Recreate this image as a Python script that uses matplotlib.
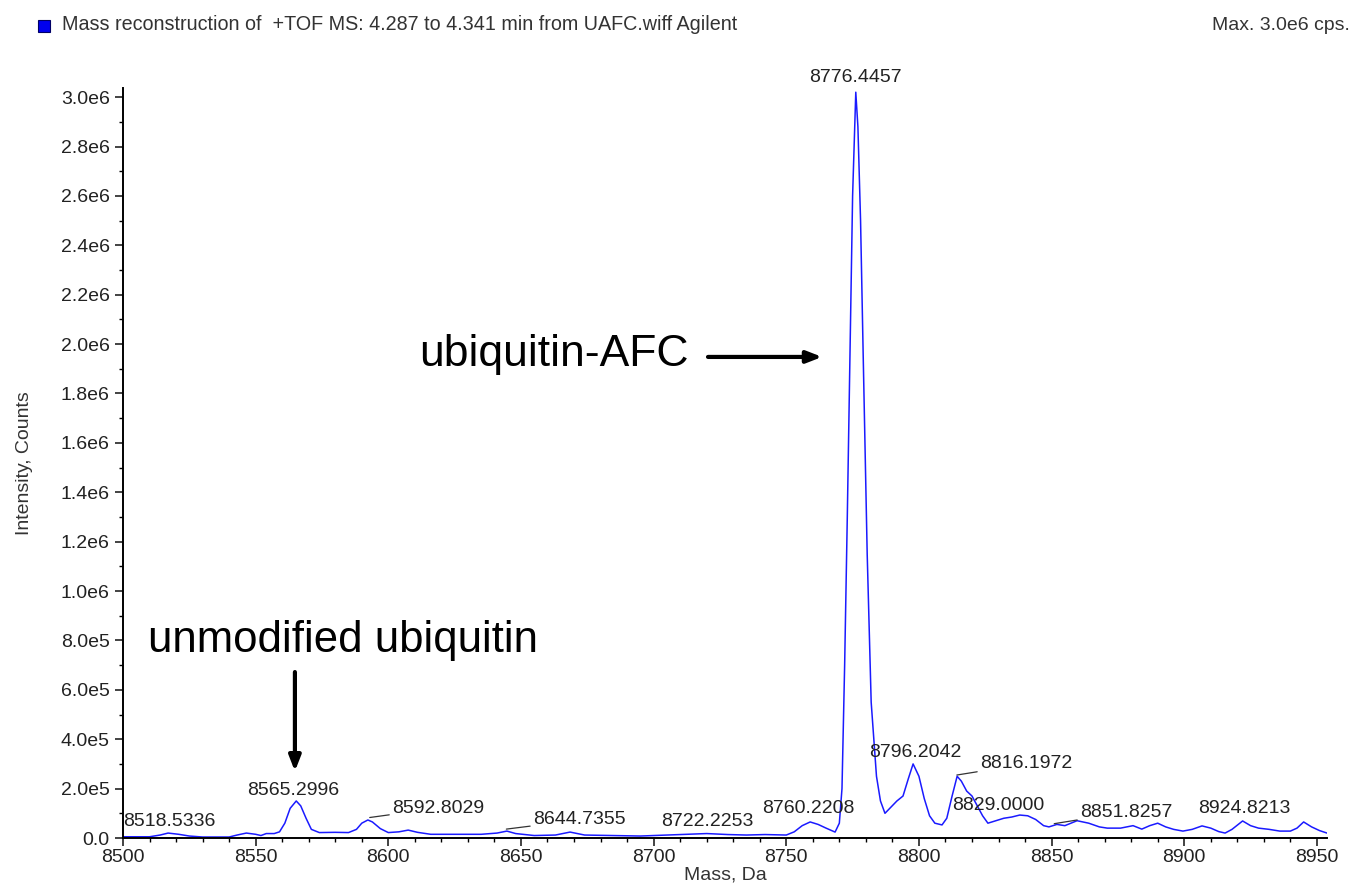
import matplotlib
matplotlib.use('Agg')
import matplotlib.pyplot as plt
from matplotlib.ticker import MultipleLocator, FuncFormatter
from matplotlib.patches import Rectangle

plt.rcParams['font.family'] = ['Liberation Sans', 'DejaVu Sans']

# reconstructed spectrum
mass = [8500, 8505, 8510, 8514, 8517, 8521, 8525, 8530, 8535, 8540, 8543, 8546.5,
        8550, 8552, 8554, 8557, 8559, 8561, 8563, 8565.3, 8567, 8569, 8571, 8574,
        8580, 8585, 8588, 8590, 8592.3, 8594, 8597, 8600, 8604, 8607.5, 8611, 8616,
        8625, 8635, 8641, 8644.7, 8648, 8655, 8663, 8668.5, 8674, 8685, 8695, 8705,
        8712, 8720, 8728, 8735, 8742, 8750, 8753, 8756, 8759, 8762, 8765, 8768.4,
        8770, 8771, 8772, 8773, 8774, 8775, 8776.2, 8777, 8778, 8779, 8780.5, 8782,
        8784, 8785.5, 8787.2, 8789, 8791.7, 8794, 8796, 8797.8, 8800, 8802, 8804, 8806,
        8808.7, 8810.5, 8812.5, 8814.4, 8816, 8818, 8820, 8822, 8824, 8826, 8829, 8832,
        8835, 8838, 8841, 8844, 8847, 8849, 8852, 8855, 8859.6, 8864, 8868, 8871, 8876,
        8880.7, 8884, 8887, 8890, 8893, 8896, 8899.5, 8903, 8906.7, 8910, 8913, 8915.4,
        8918, 8922, 8925, 8928, 8932, 8936, 8940, 8942.5, 8945, 8948, 8951, 8953.8]
intensity = [5e3, 5e3, 5e3, 1.2e4, 2.0e4, 1.5e4, 8e3, 4e3, 4e3, 4e3, 1.2e4, 2.0e4,
             1.5e4, 1.0e4, 1.8e4, 1.8e4, 2.5e4, 6e4, 1.2e5, 1.5e5, 1.3e5, 8e4, 3.5e4, 2.2e4,
             2.3e4, 2.2e4, 3.5e4, 6e4, 7.3e4, 6.5e4, 3.8e4, 2.2e4, 2.5e4, 3.2e4, 2.3e4, 1.5e4,
             1.5e4, 1.5e4, 2.0e4, 2.8e4, 1.8e4, 1.0e4, 1.2e4, 2.4e4, 1.2e4, 1.0e4, 8e3, 1.2e4,
             1.5e4, 1.8e4, 1.4e4, 1.2e4, 1.4e4, 1.2e4, 2.5e4, 5e4, 6.5e4, 5.5e4, 4e4, 2.4e4,
             6e4, 2.0e5, 7e5, 1.3e6, 1.95e6, 2.6e6, 3.02e6, 2.88e6, 2.5e6, 1.95e6, 1.15e6, 5.5e5,
             2.5e5, 1.5e5, 1.0e5, 1.2e5, 1.5e5, 1.7e5, 2.4e5, 3.0e5, 2.5e5, 1.6e5, 9e4, 6e4,
             5.3e4, 8e4, 1.7e5, 2.5e5, 2.3e5, 1.9e5, 1.7e5, 1.3e5, 9e4, 6e4, 7e4, 8e4,
             8.5e4, 9.3e4, 9e4, 7.5e4, 5e4, 4.5e4, 5.5e4, 5e4, 7e4, 6e4, 4.5e4, 4e4, 4e4,
             5e4, 3.6e4, 5e4, 6e4, 4.5e4, 3.5e4, 2.8e4, 3.5e4, 4.9e4, 4e4, 2.6e4, 2.0e4,
             3.5e4, 6.9e4, 5e4, 4e4, 3.5e4, 2.8e4, 2.8e4, 4e4, 6.5e4, 4.5e4, 3e4, 2.0e4]

peak_labels = ['8518.5336', '8565.2996', '8592.8029', '8644.7355', '8722.2253',
               '8760.2208', '8776.4457', '8796.2042', '8816.1972', '8829.0000',
               '8851.8257', '8924.8213']
label_x = [8517.3, 8564.1, 8601.4, 8654.5, 8720.1, 8758.2, 8775.9, 8798.5,
           8823.0, 8829.8, 8860.7, 8922.5]
label_y = [6.5e4, 1.94e5, 1.21e5, 7.3e4, 6.5e4, 1.21e5, 3.08e6, 3.48e5,
           3.0e5, 1.3e5, 1.05e5, 1.21e5]
# peaks that get a small leader line to their label
leader_from = {'8592.8029': (8593, 8.3e4), '8644.7355': (8644.5, 3.6e4),
               '8816.1972': (8814.3, 2.55e5), '8851.8257': (8851, 5.8e4)}

fig = plt.figure(figsize=(13.56, 8.88), dpi=100)
ax = fig.add_axes([0.0907, 0.0563, 0.8879, 0.8446])

ax.plot(mass, intensity, color='#1a1aff', lw=1.1)

ax.set_xlim(8500, 8953.8)
ax.set_ylim(0, 3.037e6)

for s in ['top', 'right']:
    ax.spines[s].set_visible(False)
for s in ['left', 'bottom']:
    ax.spines[s].set_linewidth(1.4)

ax.xaxis.set_major_locator(MultipleLocator(50))
ax.xaxis.set_minor_locator(MultipleLocator(10))
ax.yaxis.set_major_locator(MultipleLocator(2e5))
ax.yaxis.set_minor_locator(MultipleLocator(1e5))


def yfmt(v, pos):
    if v == 0:
        return '0.0'
    s = '%.1e' % v
    m, e = s.split('e')
    return m + 'e' + str(int(e))


ax.yaxis.set_major_formatter(FuncFormatter(yfmt))
ax.tick_params(axis='both', which='major', length=6, width=1.2, labelsize=14, colors='#222222')
ax.tick_params(axis='both', which='minor', length=3, width=1.0)
ax.tick_params(axis='x', pad=2)

ax.set_xlabel('Mass, Da', fontsize=14, color='#333333', labelpad=0)
ax.set_ylabel('Intensity, Counts', fontsize=14, color='#333333', labelpad=20)

# peak labels
for lab, x, y in zip(peak_labels, label_x, label_y):
    if lab in leader_from:
        ax.annotate(lab, xy=leader_from[lab], xytext=(x, y), fontsize=14,
                    color='#222222', ha='left', va='center', annotation_clip=False,
                    arrowprops=dict(arrowstyle='-', color='#333333', lw=0.9,
                                    shrinkA=0, shrinkB=0))
    else:
        ax.text(x, y, lab, fontsize=14, color='#222222', ha='center', va='center',
                clip_on=False)

# big annotations with arrows
ax.text(8662.5, 1.956e6, 'ubiquitin-AFC', fontsize=32, ha='center', va='center')
ax.annotate('', xy=(8763.5, 1.948e6), xytext=(8720.5, 1.948e6),
            arrowprops=dict(arrowstyle='-|>,head_length=0.9,head_width=0.35',
                            color='black', lw=3, shrinkA=0, shrinkB=0))
ax.text(8582.9, 8.0e5, 'unmodified ubiquitin', fontsize=31.5, ha='center', va='center')
ax.annotate('', xy=(8564.8, 2.7e5), xytext=(8564.8, 6.72e5),
            arrowprops=dict(arrowstyle='-|>,head_length=0.9,head_width=0.35',
                            color='black', lw=3, shrinkA=0, shrinkB=0))

# header line
fig.patches.append(Rectangle((38 / 1356, 1 - 32 / 888), 12 / 1356, 12 / 888,
                             transform=fig.transFigure, facecolor='#0000ee',
                             edgecolor='#000066', lw=0.8))
fig.text(62 / 1356, 1 - 25 / 888,
         'Mass reconstruction of  +TOF MS: 4.287 to 4.341 min from UAFC.wiff Agilent',
         fontsize=14.2, color='#333333', va='center', ha='left')
fig.text(1350 / 1356, 1 - 25 / 888, 'Max. 3.0e6 cps.', fontsize=14, color='#333333',
         va='center', ha='right')

fig.savefig('out.png', dpi=100)
